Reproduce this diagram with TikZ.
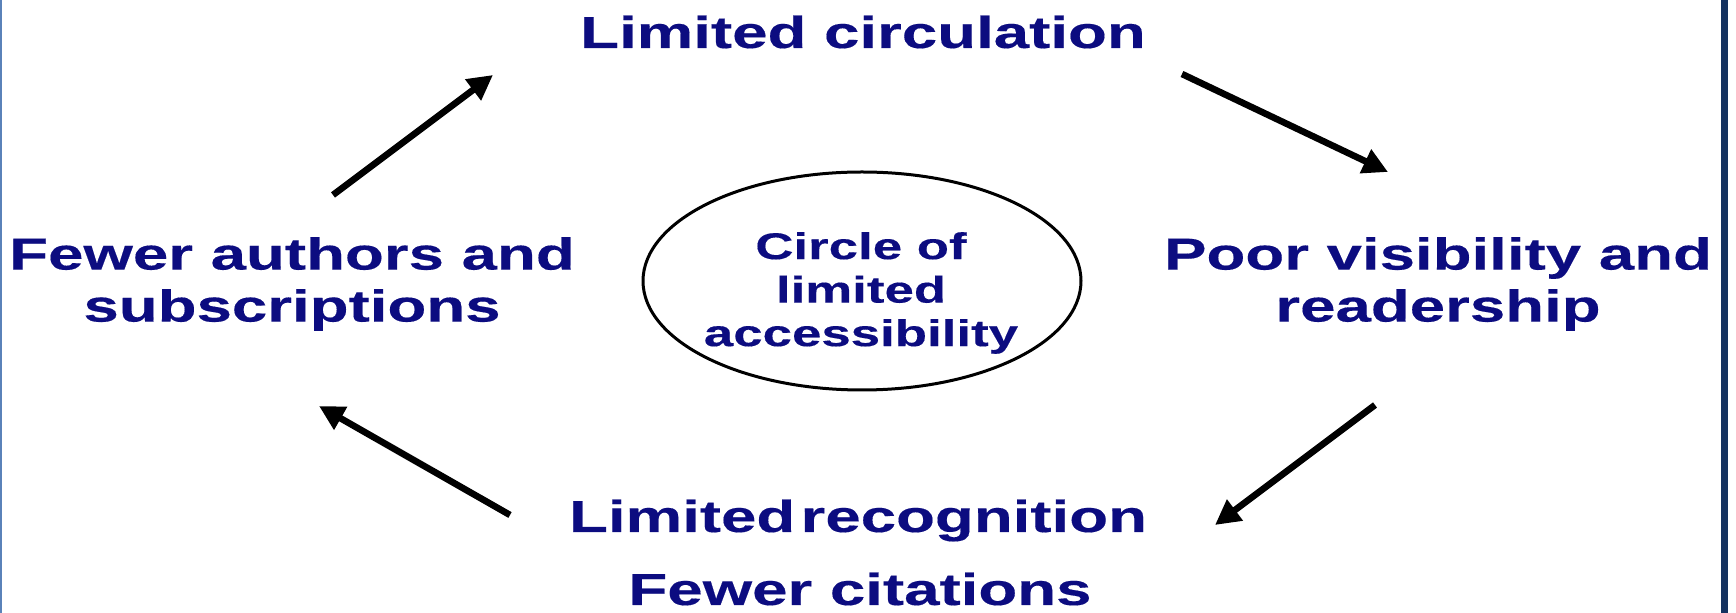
\documentclass[tikz,border=0pt]{standalone}
\usepackage{fontspec}
\setmainfont{Liberation Sans}[FakeStretch=1.42,FakeBold=0.3]
\usepackage{tikz}
\usetikzlibrary{arrows.meta}
\definecolor{stageblue}{RGB}{12,12,128}
\definecolor{framenavy}{RGB}{20,50,95}
\definecolor{framesteel}{RGB}{90,130,185}

\begin{document}
\begin{tikzpicture}[x=0.5pt,y=-0.5pt,
	stage/.style={text=stageblue,font=\fontsize{22.4}{26}\selectfont\bfseries,align=center,inner sep=0pt},
	hub/.style={text=stageblue,font=\fontsize{18.6}{21.75}\selectfont\bfseries,align=center,inner sep=0pt},
	flow/.style={line width=3.3pt,-{Triangle[length=12.5pt,width=12.5pt]}}]

	\useasboundingbox (0,0) rectangle (1736,613);
	\fill[white] (0,0) rectangle (1736,613);

	% frame lines

	\draw[framesteel,line width=1pt] (1,0) -- (1,613);
	\fill[framenavy] (1721,0) rectangle (1728,613);

	% stages of the cycle

	\node[stage,anchor=base] (circ) at (863,48) {Limited circulation};
	\node[stage] (vis) at (1438,284) {Poor visibility and\\readership};
	\node[stage,anchor=base] (recog) at (858,532) {Limited\hspace{0.12em}recognition};
	\node[stage,anchor=base] (cites) at (860,605) {Fewer citations};
	\node[stage] (auth) at (292,284) {Fewer authors and\\subscriptions};

	% centre

	\node[hub] (core) at (861,293) {Circle of\\limited\\accessibility};
	\draw[line width=1.5pt] (862,281) ellipse [x radius=109.5pt, y radius=54.5pt];

	% arrows

	\coordinate (a1) at (333,195); \coordinate (b1) at (493,75);
	\coordinate (a2) at (1182,74); \coordinate (b2) at (1388,172);
	\coordinate (a3) at (1375,405); \coordinate (b3) at (1215,525);
	\coordinate (a4) at (510,515); \coordinate (b4) at (319,406);

	\draw[flow] (a1) -- (b1);
	\draw[flow] (a2) -- (b2);
	\draw[flow] (a3) -- (b3);
	\draw[flow] (a4) -- (b4);
\end{tikzpicture}
\end{document}
